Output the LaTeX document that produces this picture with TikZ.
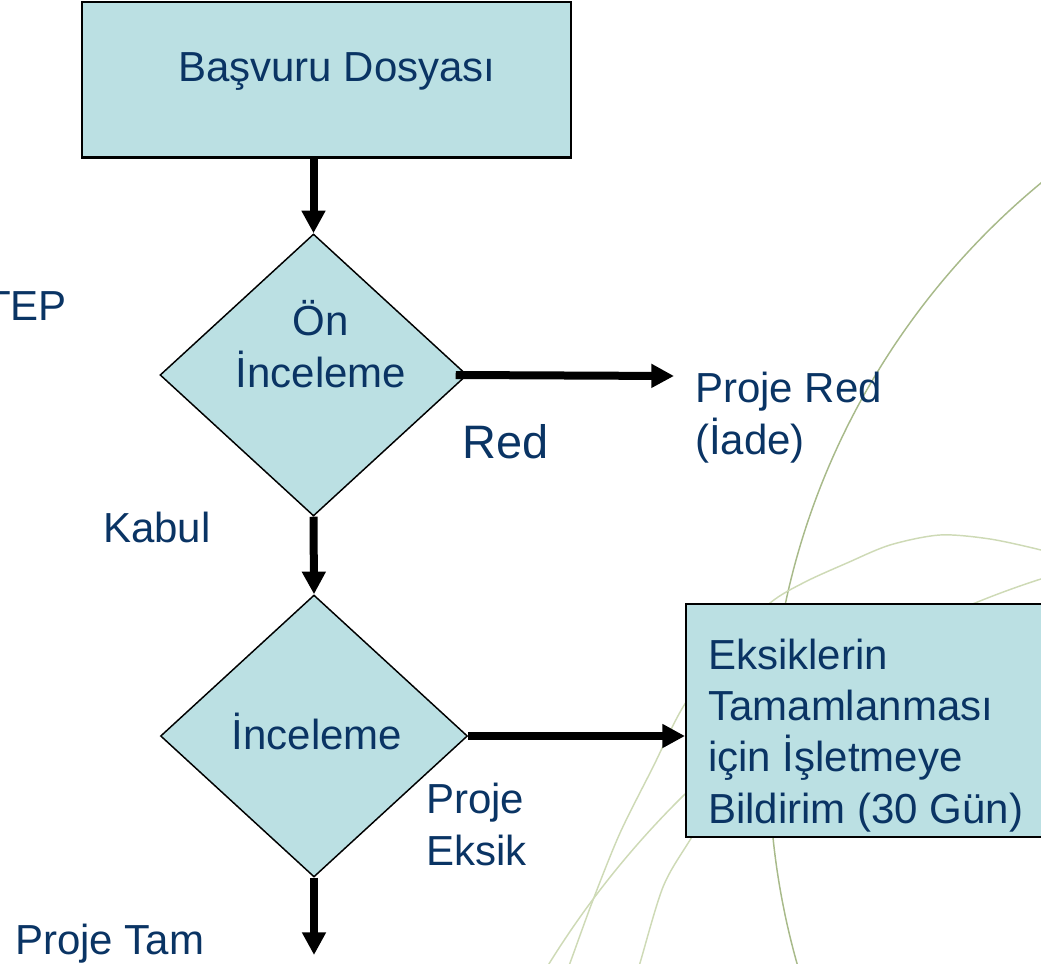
\documentclass[tikz,border=0pt]{standalone}
\usepackage{fontspec}
\setmainfont{Liberation Sans}
\usetikzlibrary{shapes.geometric,arrows.meta}
\definecolor{boxfill}{HTML}{BBE0E3}
\definecolor{ink}{HTML}{0A3464}
\definecolor{arcdark}{RGB}{168,186,138}
\definecolor{arclight}{RGB}{206,218,182}
\begin{document}
\begin{tikzpicture}[x=0.75pt,y=-0.75pt,
  txt/.style={text=ink, font=\fontsize{31.5}{38.3}\selectfont, inner sep=0pt},
  flowbox/.style={draw=black, line width=1.5pt, fill=boxfill, rectangle, inner sep=0pt},
  decision/.style={draw=black, line width=1.1pt, fill=boxfill, diamond, inner sep=0pt,
    minimum width=307*0.75pt, minimum height=282*0.75pt},
  flow/.style={line width=6pt, -{Triangle[length=17pt,width=17pt]}},
  bgarc/.style={line width=1.1pt}]
\useasboundingbox (0,0) rectangle (1041,963);
\clip (0,0) rectangle (1041,963);

% faint background arcs
\draw[bgarc, arcdark] (1517,760) circle[radius=748];
\draw[bgarc, arclight] (1317,1439) circle[radius=903];
\draw[bgarc, arclight] plot[smooth] coordinates {(1050,554) (1041,550) (990,539) (940,535)
  (890,545) (847,563) (805,582) (770,603) (725,648) (683,707) (653,767) (620,833)
  (593,900) (570,963) (565,975)};
\draw[bgarc, arclight] plot[smooth] coordinates {(780,700) (735,770) (690,840) (663,887)
  (640,963) (636,975)};

% flow chart shapes (multi-line texts are placed by the baseline of their last line)
\node[flowbox, minimum width=489*0.75pt, minimum height=155*0.75pt] (dosya) at (326.5,80) {};
\node[txt, anchor=base] (dosyatxt) at (337,82) {Başvuru Dosyası};

\node[decision] (onin) at (313.5,375) {};
\node[txt, align=center, anchor=base] (onintxt) at (321,387) {Ön\\İnceleme};

\node[decision] (inc) at (314,736) {};
\node[txt, anchor=base] (inctxt) at (317,749) {İnceleme};

\node[flowbox, minimum width=370*0.75pt, minimum height=233*0.75pt] (eksik) at (871,720.5) {};
\node[txt, align=left, anchor=base west] (eksiktxt) at (708,823)
  {Eksiklerin\\Tamamlanması\\için İşletmeye\\Bildirim (30 Gün)};

% free labels
\node[txt, anchor=base east] (tep) at (67,320) {TEP};
\node[txt, align=left, anchor=base west] (projered) at (695,454) {Proje Red\\(İade)};
\node[txt, anchor=base, font=\fontsize{35.2}{42}\selectfont] (redlbl) at (506,458) {Red};
\node[txt, anchor=base west] (kabul) at (103,542) {Kabul};
\node[txt, align=left, anchor=base west] (projeeksik) at (426,865) {Proje\\Eksik};
\node[txt, anchor=base west] (projetam) at (15,954) {Proje Tam};

% connectors
\coordinate (redend) at (674,376);
\coordinate (tamend) at (314,955);
\draw[flow] (dosya.south -| onin.north) -- (onin.north);
\draw[flow] ([xshift=-9pt]onin.east) -- (redend);
\draw[flow] (onin.south) -- (inc.north);
\draw[flow] (inc.east) -- (inc.east -| eksik.west);
\draw[flow] (inc.south) -- (tamend);
\end{tikzpicture}
\end{document}
